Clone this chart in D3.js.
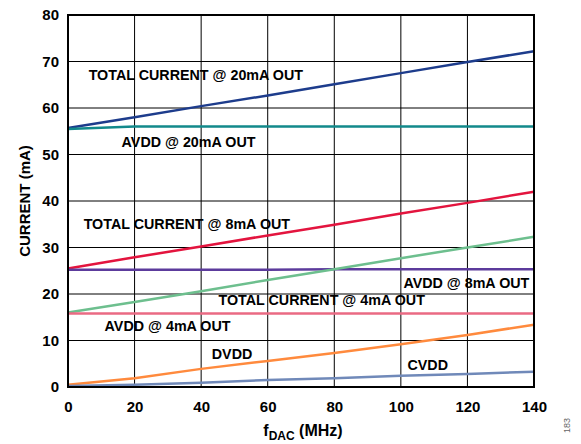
<!DOCTYPE html>
<html>
<head>
<meta charset="utf-8">
<script src="https://cdn.jsdelivr.net/npm/d3@7"></script>
<style>
  body { margin: 0; background: #fff; }
  text { font-family: "Liberation Sans", Arial, sans-serif; font-weight: bold; }
</style>
</head>
<body>
<svg id="chart" width="581" height="444"></svg>
<script>
// frequency points (MHz)
const freqs = [0, 20, 40, 60, 80, 100, 120, 140]

// currents (mA)
const total20 = [55.7, 58.0, 60.4, 62.7, 65.1, 67.5, 69.9, 72.2]
const avdd20 = [55.5, 56.0, 56.0, 56.0, 56.0, 56.0, 56.0, 56.0]
const total8 = [25.5, 27.9, 30.2, 32.6, 34.9, 37.3, 39.6, 42.0]
const avdd8 = [25.2, 25.2, 25.2, 25.2, 25.3, 25.3, 25.3, 25.3]
const total4 = [16.0, 18.3, 20.6, 23.0, 25.3, 27.7, 30.0, 32.3]
const avdd4 = [15.8, 15.8, 15.8, 15.8, 15.8, 15.8, 15.8, 15.8]
const dvdd = [0.5, 1.9, 3.9, 5.6, 7.3, 9.2, 11.2, 13.4]
const cvdd = [0.2, 0.5, 0.9, 1.5, 1.9, 2.4, 2.8, 3.3]

const xTicks = [0, 20, 40, 60, 80, 100, 120, 140]
const yTicks = [0, 10, 20, 30, 40, 50, 60, 70, 80]

const series = [
    { values: total20, color: '#1d3c8c' },
    { values: avdd20, color: '#12898b' },
    { values: total8, color: '#e3143e' },
    { values: avdd8, color: '#5c3b9c' },
    { values: total4, color: '#6dbf8e' },
    { values: avdd4, color: '#ea6a83' },
    { values: dvdd, color: '#ff8a3d' },
    { values: cvdd, color: '#7089b9' },
]

// label anchors in data units
const labels = [
    { text: 'TOTAL CURRENT @ 20mA OUT', x: 6.2, y: 67.0, anchor: 'start' },
    { text: 'AVDD @ 20mA OUT', x: 16.1, y: 52.7, anchor: 'start' },
    { text: 'TOTAL CURRENT @ 8mA OUT', x: 4.7, y: 35.0, anchor: 'start' },
    { text: 'AVDD @ 8mA OUT', x: 138.6, y: 22.4, anchor: 'end' },
    { text: 'TOTAL CURRENT @ 4mA OUT', x: 45.2, y: 18.7, anchor: 'start' },
    { text: 'AVDD @ 4mA OUT', x: 11.0, y: 13.1, anchor: 'start' },
    { text: 'DVDD', x: 43.2, y: 7.1, anchor: 'start' },
    { text: 'CVDD', x: 102.0, y: 4.7, anchor: 'start' },
]

const svg = d3.select('#chart')
const plot = { left: 68, right: 534, top: 15, bottom: 387 }

const x = d3.scaleLinear().domain([0, 140]).range([plot.left, plot.right])
const y = d3.scaleLinear().domain([0, 80]).range([plot.bottom, plot.top])

// grid
svg.append('g')
    .selectAll('line')
    .data(xTicks)
    .join('line')
    .attr('x1', d => x(d)).attr('x2', d => x(d))
    .attr('y1', plot.top).attr('y2', plot.bottom)
    .attr('stroke', '#000').attr('stroke-width', 1)

svg.append('g')
    .selectAll('line')
    .data(yTicks)
    .join('line')
    .attr('x1', plot.left).attr('x2', plot.right)
    .attr('y1', d => y(d)).attr('y2', d => y(d))
    .attr('stroke', '#000').attr('stroke-width', 1)

// series
const line = d3.line()
    .x((d, i) => x(freqs[i]))
    .y(d => y(d))

svg.append('g')
    .selectAll('path')
    .data(series)
    .join('path')
    .attr('d', d => line(d.values))
    .attr('fill', 'none')
    .attr('stroke', d => d.color)
    .attr('stroke-width', 2.5)

// frame
svg.append('rect')
    .attr('x', plot.left).attr('y', plot.top)
    .attr('width', plot.right - plot.left).attr('height', plot.bottom - plot.top)
    .attr('fill', 'none').attr('stroke', '#000').attr('stroke-width', 2)

// axes
const xAxis = svg.append('g')
    .attr('transform', `translate(0,${plot.bottom})`)
    .call(d3.axisBottom(x).tickValues(xTicks).tickSize(0).tickPadding(14))
xAxis.select('.domain').remove()
xAxis.selectAll('text').attr('font-size', 15).attr('fill', '#000')
    .style('font-family', '"Liberation Sans", Arial, sans-serif')

const yAxis = svg.append('g')
    .attr('transform', `translate(${plot.left},0)`)
    .call(d3.axisLeft(y).tickValues(yTicks).tickSize(0).tickPadding(9))
yAxis.select('.domain').remove()
yAxis.selectAll('text').attr('font-size', 15).attr('fill', '#000')
    .style('font-family', '"Liberation Sans", Arial, sans-serif')

// labels
svg.append('g')
    .selectAll('text')
    .data(labels)
    .join('text')
    .attr('x', d => x(d.x))
    .attr('y', d => y(d.y))
    .attr('dy', '0.35em')
    .attr('text-anchor', d => d.anchor)
    .attr('font-size', 14.3)
    .text(d => d.text)

// axis titles
svg.append('text')
    .attr('transform', `translate(30,${(plot.top + plot.bottom) / 2}) rotate(-90)`)
    .attr('text-anchor', 'middle')
    .attr('font-size', 15)
    .text('CURRENT (mA)')

const xt = svg.append('text')
    .attr('x', 303)
    .attr('y', 436)
    .attr('text-anchor', 'middle')
    .attr('font-size', 16)
xt.append('tspan').text('f')
xt.append('tspan').attr('font-size', 12).attr('dy', 4).text('DAC')
xt.append('tspan').attr('dy', -4).text(' (MHz)')

svg.append('text')
    .attr('transform', 'translate(570,433) rotate(-90)')
    .attr('font-size', 9)
    .attr('fill', '#666')
    .style('font-weight', 'normal')
    .text('183')
</script>
</body>
</html>
